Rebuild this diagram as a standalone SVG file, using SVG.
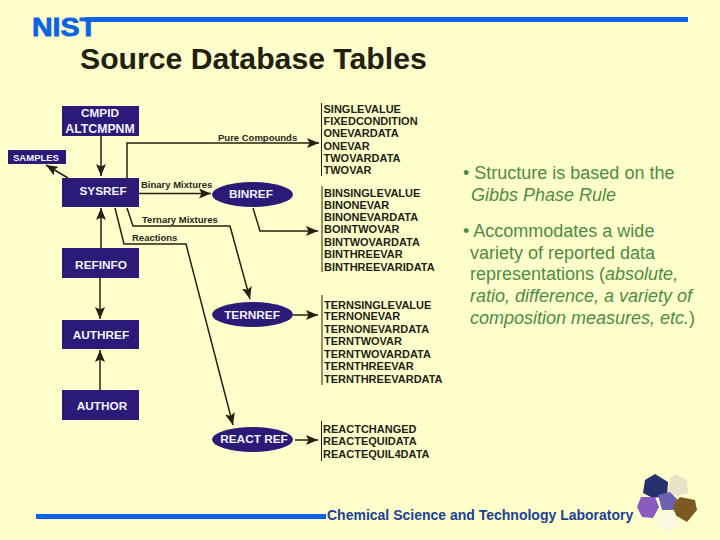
<svg xmlns="http://www.w3.org/2000/svg" width="720" height="540" viewBox="0 0 720 540">
<style>
.n{fill:#2b1a78}
.nt{font:bold 11.800px "Liberation Sans",Arial,sans-serif;fill:#f4f2ff;text-anchor:middle}
.l{font:bold 11px "Liberation Sans",Arial,sans-serif;fill:#1f1f14}
.c{font:bold 9.500px "Liberation Sans",Arial,sans-serif;fill:#26261a}
.b{font:18px "Liberation Sans",Arial,sans-serif;fill:#4c8c42}
.i{font-style:italic}
.w{fill:none;stroke:#26210f;stroke-width:1.500}
.v{stroke:#26210f;stroke-width:1}
</style>
<defs>
<marker id="a" viewBox="0 0 12 10" refX="12" refY="5" markerWidth="12" markerHeight="10" markerUnits="userSpaceOnUse" orient="auto"><path d="M0 0L12 5L0 10L2.500 5Z" fill="#26210f"/></marker>
</defs>
<rect width="720" height="540" fill="#ffffcc"/>
<g id="header">
<rect x="85" y="17" width="603" height="5" fill="#0a62e4"/>
<text x="32" y="36" font-family="'Liberation Sans',Arial,sans-serif" font-weight="bold" font-size="26" fill="#0a62e4" stroke="#0a62e4" stroke-width="0.800" textLength="65" lengthAdjust="spacingAndGlyphs">NIST</text>
<text x="80" y="69" font-family="'Liberation Sans',Arial,sans-serif" font-weight="bold" font-size="30.200" fill="#22210f">Source Database Tables</text>
</g>
<g id="connectors">
<path class="w" marker-end="url(#a)" d="M101 136V176"/>
<path class="w" marker-end="url(#a)" d="M68 178L46 165"/>
<path class="w" marker-end="url(#a)" d="M101 248V208"/>
<path class="w" marker-end="url(#a)" d="M100 278V319"/>
<path class="w" marker-end="url(#a)" d="M100 390V350"/>
<path class="w" marker-end="url(#a)" d="M127 178V143H319"/>
<path class="w" marker-end="url(#a)" d="M139 193.500H211"/>
<path class="w" marker-end="url(#a)" d="M127 208L133 226H230L250 299"/>
<path class="w" marker-end="url(#a)" d="M115 208L124 244H186L233 425"/>
<path class="w" marker-end="url(#a)" d="M253 208L260 231H318"/>
<path class="w" marker-end="url(#a)" d="M293 315H318"/>
<path class="w" marker-end="url(#a)" d="M295 440H318"/>
<path class="v" d="M321.500 103V176M322 186V272M322 295V385M321.500 421V461"/>
</g>
<g id="labels">
<text class="c" x="218" y="141">Pure Compounds</text>
<text class="c" x="141" y="188">Binary Mixtures</text>
<text class="c" x="142" y="223">Ternary Mixtures</text>
<text class="c" x="132" y="241">Reactions</text>
</g>
<g id="cmpid"><rect class="n" x="62" y="106" width="77" height="30"/><text class="nt" x="100" y="117">CMPID</text><text class="nt" x="100" y="133" style="font-size:12.300px">ALTCMPNM</text></g>
<g id="samples"><rect class="n" x="8" y="150" width="58" height="14"/><text class="nt" x="36" y="161" style="font-size:9.500px">SAMPLES</text></g>
<g id="sysref"><rect class="n" x="62" y="178" width="77" height="29"/><text class="nt" x="103" y="195">SYSREF</text></g>
<g id="refinfo"><rect class="n" x="62" y="248" width="77" height="30"/><text class="nt" x="101" y="269">REFINFO</text></g>
<g id="authref"><rect class="n" x="62" y="320" width="77" height="29"/><text class="nt" x="101" y="339">AUTHREF</text></g>
<g id="author"><rect class="n" x="62" y="390" width="77" height="30"/><text class="nt" x="102" y="410">AUTHOR</text></g>
<g id="binref"><ellipse class="n" cx="252.500" cy="194.500" rx="40.500" ry="12.500"/><text class="nt" x="251" y="198">BINREF</text></g>
<g id="ternref"><ellipse class="n" cx="252.500" cy="314.500" rx="40.500" ry="12.500"/><text class="nt" x="252" y="319">TERNREF</text></g>
<g id="reactref"><ellipse class="n" cx="252.500" cy="439.500" rx="40.500" ry="12.500"/><text class="nt" x="254" y="443">REACT REF</text></g>
<g id="pure-tables">
<text class="l" x="323.500" y="113">SINGLEVALUE</text><text class="l" x="323.500" y="125">FIXEDCONDITION</text><text class="l" x="323.500" y="137">ONEVARDATA</text><text class="l" x="323.500" y="150">ONEVAR</text><text class="l" x="323.500" y="162">TWOVARDATA</text><text class="l" x="323.500" y="174">TWOVAR</text>
</g>
<g id="bin-tables">
<text class="l" x="324" y="197">BINSINGLEVALUE</text><text class="l" x="324" y="209">BINONEVAR</text><text class="l" x="324" y="221">BINONEVARDATA</text><text class="l" x="324" y="233">BOINTWOVAR</text><text class="l" x="324" y="246">BINTWOVARDATA</text><text class="l" x="324" y="258">BINTHREEVAR</text><text class="l" x="324" y="271">BINTHREEVARIDATA</text>
</g>
<g id="tern-tables">
<text class="l" x="324" y="309">TERNSINGLEVALUE</text><text class="l" x="324" y="320">TERNONEVAR</text><text class="l" x="324" y="333">TERNONEVARDATA</text><text class="l" x="324" y="345">TERNTWOVAR</text><text class="l" x="324" y="358">TERNTWOVARDATA</text><text class="l" x="324" y="370">TERNTHREEVAR</text><text class="l" x="324" y="383">TERNTHREEVARDATA</text>
</g>
<g id="react-tables">
<text class="l" x="323" y="433">REACTCHANGED</text><text class="l" x="323" y="445">REACTEQUIDATA</text><text class="l" x="323" y="458">REACTEQUIL4DATA</text>
</g>
<g id="bullets">
<text class="b" x="463" y="179">• Structure is based on the</text>
<text class="b i" x="471" y="201">Gibbs Phase Rule</text>
<text class="b" x="463" y="237">• Accommodates a wide</text>
<text class="b" x="470" y="259">variety of reported data</text>
<text class="b" x="470" y="280">representations (<tspan class="i">absolute,</tspan></text>
<text class="b i" x="470" y="302">ratio, difference, a variety of</text>
<text class="b" x="470" y="324"><tspan class="i">composition measures, etc.</tspan>)</text>
</g>
<g id="footer">
<rect x="36" y="514" width="290" height="5" fill="#0a62e4"/>
<text x="327" y="520" font-family="'Liberation Sans',Arial,sans-serif" font-weight="bold" font-size="14" fill="#1c3f96">Chemical Science and Technology Laboratory</text>
<polygon points="655,474 668,482 667,496 653,498 643,493 645,480" fill="#27306f"/>
<polygon points="675,474 687,480 688,493 678,496 668,493 670,478" fill="#e8e2c8"/>
<polygon points="641,497 655,497 659,507 653,518 642,517 637,507" fill="#8a5cc0"/>
<polygon points="658,495 670,492 678,500 675,510 662,510" fill="#6a62b0"/>
<polygon points="680,497 695,500 697,510 687,522 675,515 673,505" fill="#7a5a20"/>
<polygon points="660,512 675,512 678,523 667,533 655,523" fill="#fbf8e0"/>
</g>
</svg>
